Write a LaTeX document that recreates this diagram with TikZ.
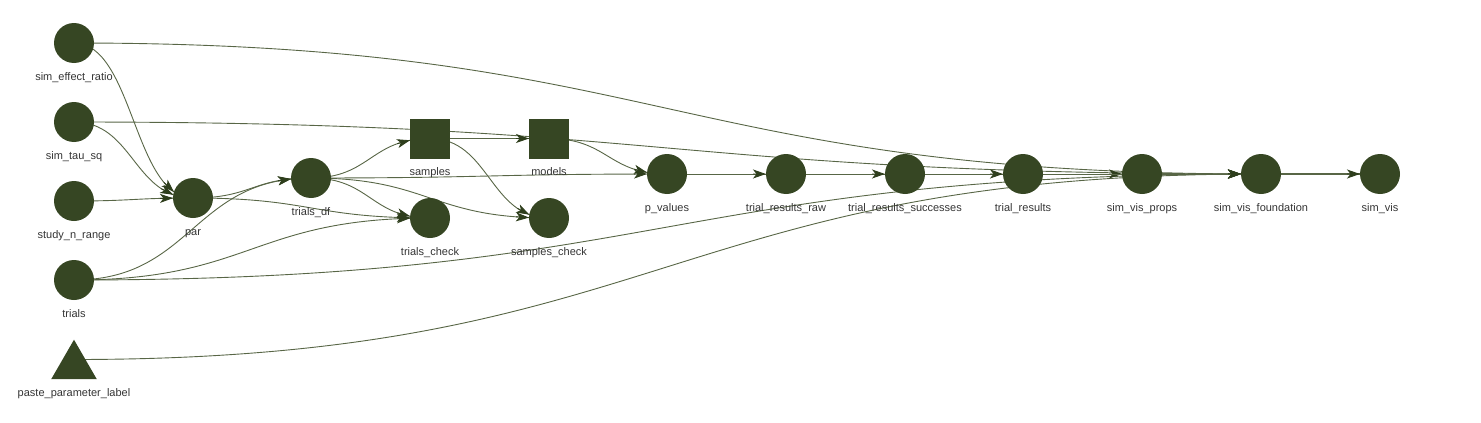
\documentclass[tikz,border=0pt]{standalone}
\usepackage{fontspec}
\setmainfont{Liberation Sans}
\usetikzlibrary{arrows.meta,calc,backgrounds,intersections,shapes.geometric}
\definecolor{nodecol}{RGB}{54,70,35}
\definecolor{edgecol}{RGB}{88,102,70}
\definecolor{arrowcol}{RGB}{46,62,28}
\definecolor{labelcol}{RGB}{52,52,52}
\newcommand\vcurve[3]{\draw[#1] let \p1=(#2.center), \p2=(#3.center) in (\p1) .. controls ({(\x1+\x2)/2},\y1) and ({(\x1+\x2)/2},\y2) .. (\p2);}
\newcommand\vtip[1]{%
 \path[name path=vring] (#1.center) circle[radius=33pt];%
 \path[name intersections={of=vcurve and vborder, by=vtipA}];%
 \path[name intersections={of=vcurve and vring, by=vtipB}];%
 \draw[vhead] (vtipB) -- (vtipA);}
\newcommand\vedge[3][]{%
 \vcurve{vline,name path=vcurve,#1}{#2}{#3}%
 \path[name path=vborder] (#3.center) circle[radius=20pt];%
 \vtip{#3}}
\newcommand\vedgesq[3][]{%
 \vcurve{vline,name path=vcurve,#1}{#2}{#3}%
 \path[name path=vborder] ($(#3.center)+(-20,-20)$) rectangle ($(#3.center)+(20,20)$);%
 \vtip{#3}}
\begin{document}
\begin{tikzpicture}[x=1pt,y=-1pt,
 dotnode/.style={circle, fill=nodecol, draw=none, minimum size=40pt, inner sep=0pt},
 boxnode/.style={rectangle, fill=nodecol, draw=none, minimum size=40pt, inner sep=0pt},
 trinode/.style={regular polygon, regular polygon sides=3, fill=nodecol, draw=none, minimum size=52.6pt, inner sep=0pt},
 lbl/.style={font=\fontsize{11}{13}\selectfont, text=labelcol, inner sep=0pt, text height=8pt, text depth=2.5pt},
 label distance=9pt,
 every label/.style={lbl},
 vline/.style={draw=edgecol, line width=0.9pt},
 vhead/.style={draw=arrowcol, line width=0.9pt, -{Stealth[length=13pt,width=9pt,inset=3.5pt,color=arrowcol]}},
]
\useasboundingbox (0,0) rectangle (1481,423);

\node[dotnode, label=below:sim\_effect\_ratio] (ser) at (74,43) {};
\node[dotnode, label=below:sim\_tau\_sq] (sts) at (74,122) {};
\node[dotnode, label=below:study\_n\_range] (snr) at (74,201) {};
\node[dotnode, label=below:trials] (trials) at (74,280) {};
\node[trinode, label=below:paste\_parameter\_label] (paste) at (74,366) {};
\coordinate (pasteP) at (74,359.5);
\node[dotnode, label=below:par] (par) at (193,198) {};
\node[dotnode, label=below:trials\_df] (tdf) at (311,178) {};
\node[boxnode, label=below:samples] (samples) at (430,138.5) {};
\node[dotnode, label=below:trials\_check] (tchk) at (430,218) {};
\node[boxnode, label=below:models] (models) at (549,138.5) {};
\node[dotnode, label=below:samples\_check] (schk) at (549,218) {};
\node[dotnode, label=below:p\_values] (pval) at (667,174) {};
\node[dotnode, label=below:trial\_results\_raw] (trr) at (786,174) {};
\node[dotnode, label=below:trial\_results\_successes] (trs) at (905,174) {};
\node[dotnode, label=below:trial\_results] (tr) at (1023,174) {};
\node[dotnode, label=below:sim\_vis\_props] (svp) at (1142,174) {};
\node[dotnode, label=below:sim\_vis\_foundation] (svf) at (1261,174) {};
\node[dotnode, label=below:sim\_vis] (svis) at (1380,174) {};

\begin{scope}[on background layer]
\vedge{ser}{par}
\vedge{ser}{svf}
\vedge{sts}{par}
\vedge{sts}{svf}
\vedge{snr}{par}
\vedge{trials}{tdf}
\vedge{trials}{tchk}
\vedge{trials}{svf}
\vedge{pasteP}{svf}
\vedge{par}{tdf}
\vedge{par}{tchk}
\vedgesq{tdf}{samples}
\vedge{tdf}{tchk}
\vedge{tdf}{schk}
\vedge{tdf}{pval}
\vedgesq{samples}{models}
\vedge{samples}{schk}
\vedge{models}{pval}
\vedge{pval}{trr}
\vedge{trr}{trs}
\vedge{trs}{tr}
\vedge{tr}{svp}
\vedge{tr}{svf}
\vedge{svp}{svf}
\vedge[line width=1.6pt]{svf}{svis}
\end{scope}
\end{tikzpicture}
\end{document}
